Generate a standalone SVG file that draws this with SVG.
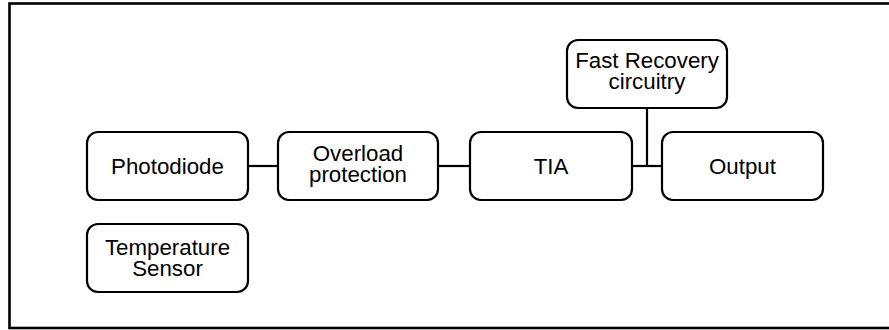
<svg xmlns="http://www.w3.org/2000/svg" width="889" height="330" viewBox="0 0 889 330">
<style>
.box{fill:#fff;stroke:#000;stroke-width:2.2}
.t{font-family:"Liberation Sans",Arial,sans-serif;font-size:22.3px;fill:#000;text-anchor:middle}
.c{stroke:#000;stroke-width:2.2;fill:none}
</style>
<rect x="0" y="0" width="889" height="330" fill="#fff"/>
<rect x="9.5" y="3.5" width="900" height="324.5" fill="none" stroke="#000" stroke-width="2.6"/>
<g id="connectors">
<line class="c" x1="248" y1="166" x2="278" y2="166"/>
<line class="c" x1="438" y1="166" x2="470" y2="166"/>
<line class="c" x1="632" y1="166" x2="662" y2="166"/>
<line class="c" x1="647" y1="108" x2="647" y2="166"/>
</g>
<g id="photodiode">
<rect class="box" x="87" y="132" width="161" height="68" rx="11"/>
<text class="t" x="167.5" y="174">Photodiode</text>
</g>
<g id="temperature-sensor">
<rect class="box" x="87" y="224" width="161" height="68" rx="11"/>
<text class="t"><tspan x="167.5" y="255">Temperature</tspan><tspan x="167.5" y="275.5">Sensor</tspan></text>
</g>
<g id="overload">
<rect class="box" x="278" y="132" width="160" height="68" rx="11"/>
<text class="t"><tspan x="358" y="161">Overload</tspan><tspan x="358" y="181.5">protection</tspan></text>
</g>
<g id="tia">
<rect class="box" x="470" y="132" width="162" height="68" rx="11"/>
<text class="t" x="551" y="174">TIA</text>
</g>
<g id="output">
<rect class="box" x="662" y="132" width="161" height="68" rx="11"/>
<text class="t" x="742.5" y="174">Output</text>
</g>
<g id="fast-recovery">
<rect class="box" x="567" y="40" width="160" height="68" rx="11"/>
<text class="t"><tspan x="647" y="68">Fast Recovery</tspan><tspan x="647" y="88.5">circuitry</tspan></text>
</g>
</svg>
